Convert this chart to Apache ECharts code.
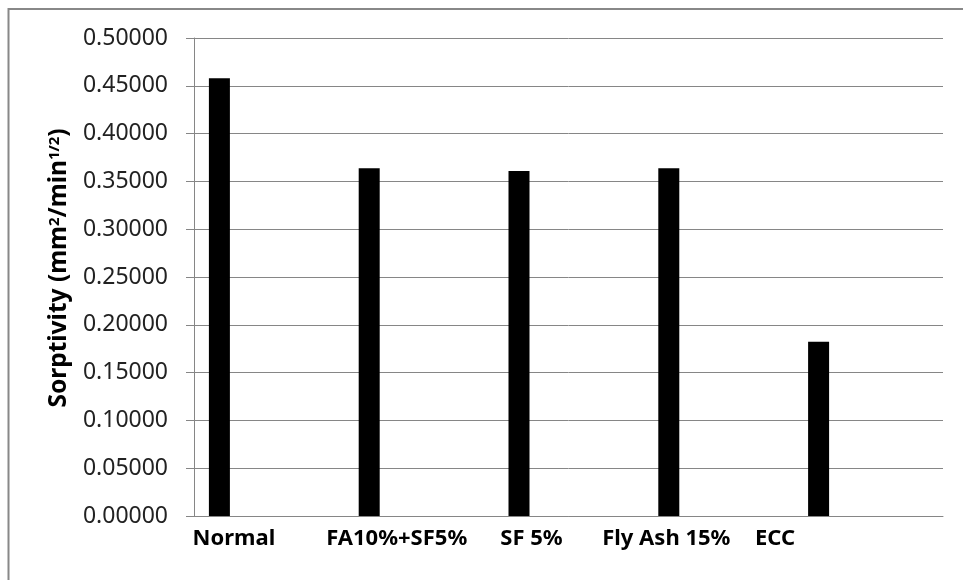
<!DOCTYPE html>
<html>
<head>
<meta charset="utf-8">
<script src="https://cdn.jsdelivr.net/npm/echarts@6/dist/echarts.min.js"></script>
<style>
  html, body { margin: 0; padding: 0; background: #fff; }
  #chart { width: 963px; height: 580px; }
</style>
</head>
<body>
<div id="chart"></div>
<script>
// Sorptivity per mix
const categories = ['Normal', 'FA10%+SF5%', 'SF 5%', 'Fly Ash 15%', 'ECC'];
const sorptivity = [0.4578, 0.3638, 0.3610, 0.3638, 0.1822];
const yTicks = { min: 0, max: 0.5, step: 0.05 };
// horizontal nudge of each category label (px, negative = left)
const labelShift = [-35, -22, -37, -52, -93];

const FONT = 'Noto Sans';
const GRID = '#868686';

const chart = echarts.init(document.getElementById('chart'), null, { renderer: 'canvas' });

const xData = categories.map((c, i) => {
  const s = labelShift[i];
  return {
    value: c,
    textStyle: { padding: s < 0 ? [0, -2 * s, 0, 0] : [0, 0, 0, 2 * s] }
  };
});

chart.setOption({
  animation: false,
  backgroundColor: '#fff',
  grid: { left: 194, right: 20, top: 38, bottom: 64, containLabel: false },
  graphic: [{
    type: 'rect',
    shape: { x: 8.5, y: 9, width: 1000, height: 1000 },
    style: { fill: 'none', stroke: '#888', lineWidth: 2 },
    silent: true
  }],
  xAxis: {
    type: 'category',
    data: xData,
    boundaryGap: true,
    axisLine: { show: true, lineStyle: { color: GRID, width: 1 } },
    axisTick: { show: false },
    axisLabel: {
      interval: 0,
      margin: 12,
      color: '#000',
      fontFamily: FONT,
      fontWeight: 'bold',
      fontSize: 22
    }
  },
  yAxis: {
    type: 'value',
    min: yTicks.min,
    max: yTicks.max,
    interval: yTicks.step,
    axisLine: { show: true, lineStyle: { color: GRID, width: 1 } },
    axisTick: { show: true, length: 8, lineStyle: { color: GRID, width: 1 } },
    splitLine: { show: true, lineStyle: { color: GRID, width: 1 } },
    axisLabel: {
      margin: 26,
      color: '#222',
      fontFamily: FONT,
      fontSize: 23,
      formatter: v => v.toFixed(5)
    },
    name: '{b|Sorptivity (mm}{s|2}{b|/min}{s|1/2}{b|)}',
    nameLocation: 'middle',
    nameGap: 120,
    nameTextStyle: {
      padding: [0, 0, 0, 18],
      rich: {
        b: { fontFamily: FONT, fontWeight: 'bold', fontSize: 24.5, color: '#000' },
        s: { fontFamily: FONT, fontWeight: 'bold', fontSize: 15, color: '#000', verticalAlign: 'top' }
      }
    }
  },
  series: [
    {
      name: 'Sorptivity',
      type: 'bar',
      data: sorptivity,
      barWidth: 21,
      barGap: '0%',
      itemStyle: { color: '#000' }
    },
    {
      // empty companion series that reserves the right part of each band
      name: 'spacer',
      type: 'bar',
      data: categories.map(() => null),
      barWidth: 99,
      barGap: '0%',
      itemStyle: { color: 'transparent' },
      silent: true
    }
  ]
});
</script>
</body>
</html>
